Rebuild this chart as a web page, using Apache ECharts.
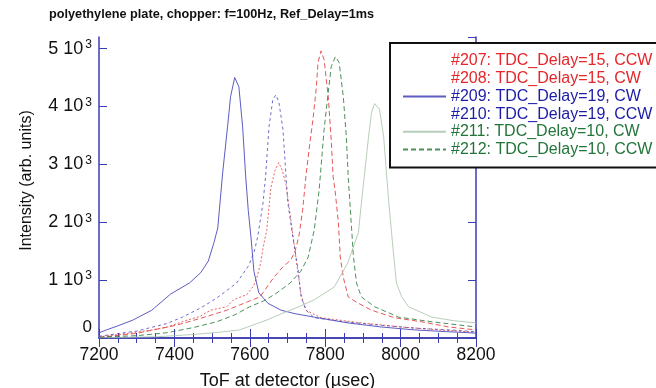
<!DOCTYPE html>
<html>
<head>
<meta charset="utf-8">
<script src="https://cdn.jsdelivr.net/npm/echarts@6/dist/echarts.min.js"></script>
<style>
html, body { margin: 0; padding: 0; background: #fff; }
#main { width: 656px; height: 388px; }
</style>
</head>
<body>
<div id="main"></div>
<script>
// ToF (usec) / intensity, one pair of arrays per run
var tof207 = [7200,7300,7405,7480,7539,7573,7627,7664,7688,7709,7720,7730,7740,7749,7758,7768,7776,7781,7789,7797,7808,7816,7821,7826,7835,7840,7848,7861,7888,7923,7984,8056,8128,8200];
var int207 = [10,80,220,360,480,570,710,1050,1230,1350,1500,1750,2200,2800,3300,3800,4300,4760,4960,4810,4170,3420,2790,2560,1990,1400,1050,710,600,480,350,280,190,140];

var tof208 = [7200,7240,7288,7340,7381,7434,7467,7496,7539,7557,7592,7610,7619,7629,7635,7645,7656,7667,7677,7686,7696,7709,7723,7736,7749,7789,7896,8003,8100,8200];
var int208 = [20,50,90,140,190,310,370,480,540,660,750,900,1050,1300,1550,1870,2600,2900,3030,2900,2650,2040,1350,750,480,350,260,190,140,100];

var tof209 = [7200,7220,7250,7290,7340,7390,7440,7470,7490,7505,7515,7528,7541,7549,7560,7571,7581,7589,7596,7603,7611,7624,7648,7683,7720,7771,7861,7949,8037,8120,8200];
var int209 = [90,140,210,310,480,760,950,1130,1330,1650,1900,2850,3650,4170,4500,4340,3650,2800,2200,1750,1150,780,600,480,420,360,260,190,140,110,85];

var tof210 = [7200,7300,7380,7421,7470,7512,7545,7565,7581,7597,7612,7621,7635,7642,7651,7661,7669,7677,7688,7696,7701,7714,7728,7736,7749,7771,7850,7949,8040,8128,8200];
var int210 = [30,120,250,360,520,690,850,950,1100,1250,1500,1750,2330,2800,3650,4120,4200,4080,3600,2800,2330,1750,1180,710,480,350,280,220,170,140,110];

var tof211 = [7200,7350,7450,7520,7573,7645,7688,7730,7771,7824,7860,7888,7896,7915,7923,7931,7944,7955,7968,7976,7981,7989,8003,8021,8083,8140,8200];
var int211 = [5,20,60,100,140,310,430,540,660,880,1300,1820,2330,3480,3900,4050,3950,3480,2390,1820,1470,950,710,540,360,300,260];

var tof212 = [7200,7300,7379,7450,7512,7560,7600,7640,7672,7707,7735,7755,7771,7784,7797,7808,7816,7827,7837,7848,7856,7861,7869,7875,7883,7896,7931,7995,8083,8200];
var int212 = [15,40,90,180,280,400,540,650,780,950,1150,1400,1870,2560,3600,4240,4690,4860,4760,4170,3480,2790,1990,1400,950,710,540,360,280,190];

var names = [
  '#207: TDC_Delay=15, CCW',
  '#208: TDC_Delay=15, CW',
  '#209: TDC_Delay=19, CW',
  '#210: TDC_Delay=19, CCW',
  '#211: TDC_Delay=10, CW',
  '#212: TDC_Delay=10, CCW'
];
var xTicks = [7200, 8200, 200];   // min, max, step
var yTicks = [0, 5200, 1000];

function pts(xs, ys) {
  return xs.map(function (x, i) { return [x, ys[i]]; });
}

var axisColor = '#3b3bb2';
var font = 'Liberation Sans, Arial, sans-serif';

var chart = echarts.init(document.getElementById('main'));

function line(name, data, color, type) {
  return {
    name: name,
    type: 'line',
    data: data,
    symbol: 'none',
    animation: false,
    lineStyle: { color: color, width: 1, type: type, opacity: 0.85 },
    itemStyle: { color: color }
  };
}

chart.setOption({
  animation: false,
  backgroundColor: '#fff',
  title: {
    text: 'polyethylene plate, chopper: f=100Hz, Ref_Delay=1ms',
    left: 49,
    top: 8,
    padding: 0,
    textStyle: { fontFamily: font, fontWeight: 'bold', fontSize: 12.7, color: '#111' }
  },
  grid: { left: 99, right: 180, top: 37, bottom: 50, outerBoundsMode: 'none' },
  legend: {
    orient: 'vertical',
    left: 390,
    top: 43,
    padding: [10, 10, 10, 12],
    borderColor: '#111',
    borderWidth: 2,
    borderRadius: 0,
    backgroundColor: '#fff',
    itemWidth: 43,
    itemHeight: 10,
    itemGap: 1.7,
    z: 10,
    itemStyle: { opacity: 0 },
    textStyle: { fontFamily: font, fontSize: 16, lineHeight: 16 },
    data: [
      { name: names[0], textStyle: { color: '#e5262a' }, lineStyle: { opacity: 0 } },
      { name: names[1], textStyle: { color: '#e5262a' }, lineStyle: { opacity: 0 } },
      { name: names[2], textStyle: { color: '#1c1ca8' } },
      { name: names[3], textStyle: { color: '#1c1ca8' }, lineStyle: { opacity: 0 } },
      { name: names[4], textStyle: { color: '#23743a' } },
      { name: names[5], textStyle: { color: '#23743a' } }
    ]
  },
  xAxis: [{
    type: 'value',
    position: 'bottom',
    min: xTicks[0], max: xTicks[1], interval: xTicks[2],
    axisLine: { lineStyle: { color: axisColor, width: 1.5 } },
    axisTick: { inside: true, length: 9, lineStyle: { color: axisColor } },
    minorTick: { show: true, splitNumber: 4, length: 5, lineStyle: { color: axisColor } },
    splitLine: { show: false },
    axisLabel: {
      fontFamily: font, fontSize: 17.5, color: '#111', margin: 8,
      formatter: function (v) { return String(v); }
    },
    name: 'ToF at detector (\u00b5sec)',
    nameLocation: 'middle',
    nameGap: 34,
    nameTextStyle: { fontFamily: font, fontSize: 18, color: '#111' }
  }, {
    type: 'value',
    position: 'top',
    min: xTicks[0], max: xTicks[1], interval: xTicks[2],
    axisLine: { lineStyle: { color: axisColor, width: 1.5 } },
    axisTick: { inside: true, length: 9, lineStyle: { color: axisColor } },
    minorTick: { show: true, splitNumber: 4, length: 5, lineStyle: { color: axisColor } },
    splitLine: { show: false },
    axisLabel: { show: false }
  }],
  yAxis: [{
    type: 'value',
    position: 'left',
    min: yTicks[0], max: yTicks[1], interval: yTicks[2],
    axisLine: { lineStyle: { color: axisColor, width: 1.5 } },
    axisTick: { inside: true, length: 8, lineStyle: { color: axisColor } },
    splitLine: { show: false },
    axisLabel: {
      color: '#111', margin: 7,
      showMaxLabel: false,
      formatter: function (v) {
        if (v === 0) return '{z|0}';
        if (v % 1000 !== 0) return '';
        return '{n|' + (v / 1000) + ' 10}{s|3}';
      },
      rich: {
        z: { fontFamily: font, fontSize: 17, color: '#111', padding: [0, 0, 22, 0] },
        n: { fontFamily: font, fontSize: 18, color: '#111' },
        s: { fontFamily: font, fontSize: 12, color: '#111', padding: [0, 0, 8, 2] }
      }
    },
    name: 'Intensity (arb. units)',
    nameLocation: 'middle',
    nameGap: 64,
    nameTextStyle: { fontFamily: font, fontSize: 16, color: '#111', padding: [0, 0, 0, 14] }
  }, {
    type: 'value',
    position: 'right',
    min: yTicks[0], max: yTicks[1], interval: yTicks[2],
    axisLine: { lineStyle: { color: axisColor, width: 1.5 } },
    axisTick: { inside: true, length: 8, lineStyle: { color: axisColor } },
    splitLine: { show: false },
    axisLabel: { show: false }
  }],
  series: [
    line(names[0], pts(tof207, int207), '#e23a3a', [5, 3]),
    line(names[1], pts(tof208, int208), '#e24848', [2, 2]),
    line(names[2], pts(tof209, int209), '#4040b8', 'solid'),
    line(names[3], pts(tof210, int210), '#5555c2', [3, 3]),
    line(names[4], pts(tof211, int211), '#a9c6ab', 'solid'),
    line(names[5], pts(tof212, int212), '#2e7d3e', [5, 3])
  ]
});
</script>
</body>
</html>
